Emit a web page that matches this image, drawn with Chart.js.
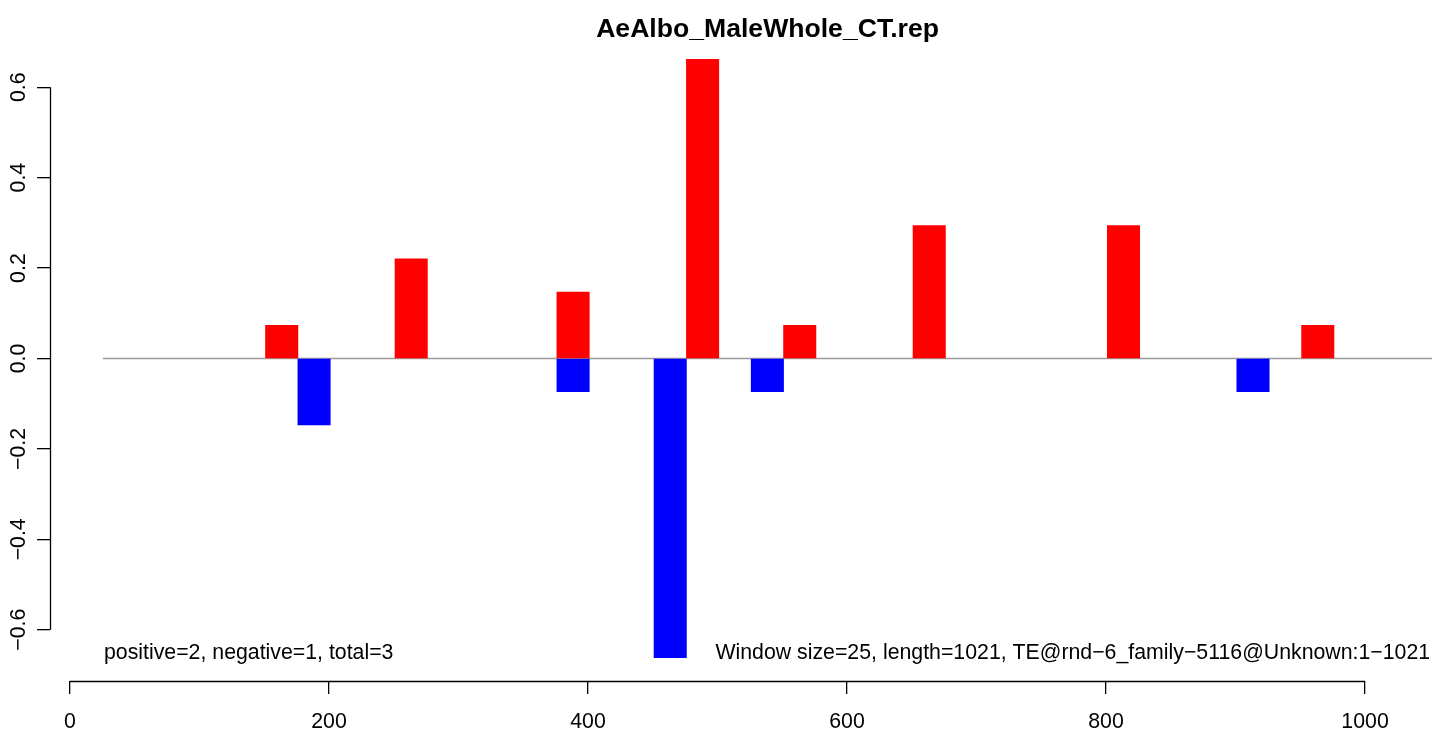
<!DOCTYPE html>
<html lang="en">
<head>
<meta charset="UTF-8">
<title>AeAlbo_MaleWhole_CT.rep</title>
<script src="https://cdn.jsdelivr.net/npm/chart.js"></script>
<style>
    body {
        margin: 0;
        background: #ffffff;
    }
    .wrap {
        width: 1439px;
        height: 732px;
    }
</style>
</head>
<body>
<div class="wrap"><canvas id="chart"></canvas></div>

<script>
    // window centres along the TE and the signal in each window
    const posX = [163.5, 263.5, 388.5, 488.5, 563.5, 663.5, 813.5, 963.5];
    const posY = [0.0735, 0.2206, 0.1471, 0.6618, 0.0735, 0.2941, 0.2941, 0.0735];
    const negX = [188.5, 388.5, 463.5, 538.5, 913.5];
    const negY = [-0.1471, -0.0735, -0.6618, -0.0735, -0.0735];

    const xTicks = [0, 200, 400, 600, 800, 1000];
    const yTicks = [-0.6, -0.4, -0.2, 0.0, 0.2, 0.4, 0.6];
    const plotXlim = [25.5, 1051.8];   // extent of the zero line

    const title = 'AeAlbo_MaleWhole_CT.rep';
    const leftNote = 'positive=2, negative=1, total=3';
    const rightNote = 'Window size=25, length=1021, TE@rnd\u22126_family\u22125116@Unknown:1\u22121021';

    const FONT = '"Liberation Sans", Arial, Helvetica, sans-serif';

    function fmtY(v) {
        const s = Math.abs(v).toFixed(1);
        return v < 0 ? '\u2212' + s : s;
    }

    // R-like decorations: axis lines over the tick range, rotated y labels, title, notes
    const rStyle = {
        id: 'rStyle',
        afterDraw(chart) {
            const ctx = chart.ctx;
            const xs = chart.scales.x;
            const ys = chart.scales.y;
            const area = chart.chartArea;
            ctx.save();

            ctx.strokeStyle = '#000';
            ctx.lineWidth = 1.3;
            ctx.beginPath();
            const ax = Math.round(area.bottom) + 0.5;
            ctx.moveTo(xs.getPixelForValue(xTicks[0]), ax);
            ctx.lineTo(xs.getPixelForValue(xTicks[xTicks.length - 1]), ax);
            const ay = Math.round(area.left) + 0.5;
            ctx.moveTo(ay, ys.getPixelForValue(yTicks[0]));
            ctx.lineTo(ay, ys.getPixelForValue(yTicks[yTicks.length - 1]));
            ctx.stroke();

            ctx.fillStyle = '#000';
            ctx.font = '21.3px ' + FONT;
            ctx.textAlign = 'center';
            ctx.textBaseline = 'alphabetic';
            yTicks.forEach(v => {
                ctx.save();
                ctx.translate(25, ys.getPixelForValue(v));
                ctx.rotate(-Math.PI / 2);
                ctx.fillText(fmtY(v), 0, 0);
                ctx.restore();
            });

            const left = xs.getPixelForValue(plotXlim[0]);
            const right = xs.getPixelForValue(plotXlim[1]);

            ctx.font = 'bold 26.6px ' + FONT;
            ctx.textAlign = 'center';
            ctx.fillText(title, (left + right) / 2, 37);

            ctx.font = '21.3px ' + FONT;
            ctx.textAlign = 'left';
            ctx.fillText(leftNote, left + 1, area.bottom - 22);
            ctx.textAlign = 'right';
            ctx.fillText(rightNote, right - 2, area.bottom - 22);

            ctx.restore();
        }
    };

    new Chart(document.getElementById('chart'), {
        type: 'bar',
        data: {
            datasets: [
                {
                    label: 'positive',
                    data: posX.map((x, i) => ({ x: x, y: posY[i] })),
                    backgroundColor: '#ff0000',
                    borderWidth: 0,
                    grouped: false,
                    categoryPercentage: 1,
                    barPercentage: 1
                },
                {
                    label: 'negative',
                    data: negX.map((x, i) => ({ x: x, y: negY[i] })),
                    backgroundColor: '#0000ff',
                    borderWidth: 0,
                    grouped: false,
                    categoryPercentage: 1,
                    barPercentage: 1
                },
                {
                    type: 'line',
                    label: 'zero',
                    data: plotXlim.map(x => ({ x: x, y: 0 })),
                    borderColor: '#9a9a9a',
                    borderWidth: 1.4,
                    pointRadius: 0,
                    fill: false
                }
            ]
        },
        options: {
            responsive: true,
            maintainAspectRatio: false,
            animation: false,
            layout: {
                padding: { top: 36, right: 0, bottom: 0, left: 0 }
            },
            plugins: {
                legend: { display: false },
                title: { display: false },
                tooltip: { enabled: false }
            },
            scales: {
                x: {
                    type: 'linear',
                    min: -15.4,
                    max: 1057.1,
                    offset: false,
                    afterBuildTicks: s => { s.ticks = xTicks.map(v => ({ value: v })); },
                    afterFit: s => { s.height = 51; },
                    grid: {
                        offset: false,
                        drawOnChartArea: false,
                        drawTicks: true,
                        tickLength: 13,
                        color: '#000',
                        lineWidth: 1.3
                    },
                    border: { display: false },
                    ticks: {
                        maxRotation: 0,
                        autoSkip: false,
                        padding: 15,
                        color: '#000',
                        font: { family: FONT, size: 21.3 },
                        callback: v => String(v)
                    }
                },
                y: {
                    type: 'linear',
                    min: -0.7133,
                    max: 0.7133,
                    afterBuildTicks: s => { s.ticks = yTicks.map(v => ({ value: v })); },
                    afterFit: s => { s.width = 50; },
                    grid: {
                        drawOnChartArea: false,
                        drawTicks: true,
                        tickLength: 13,
                        color: '#000',
                        lineWidth: 1.3
                    },
                    border: { display: false },
                    ticks: { display: false }
                }
            }
        },
        plugins: [rStyle]
    });
</script>
</body>
</html>
